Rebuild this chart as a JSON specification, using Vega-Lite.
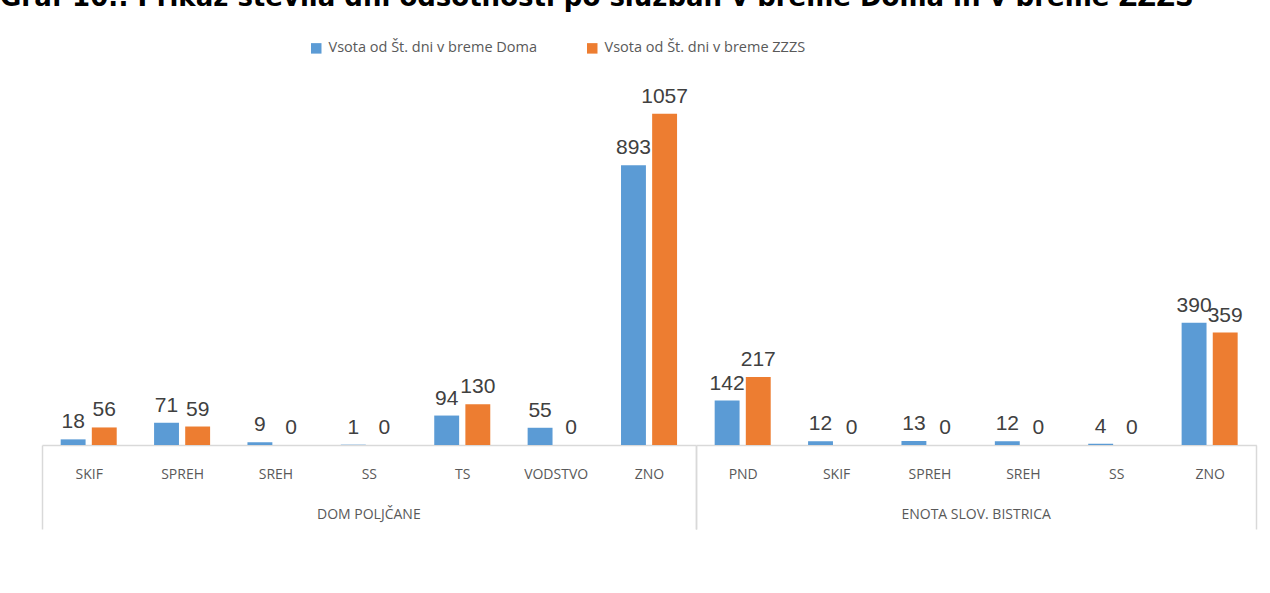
{
  "$schema": "https://vega.github.io/schema/vega-lite/v6.json",
  "padding": {"left": 0, "top": -15, "right": 8, "bottom": 0},
  "background": "white",
  "title": {
    "text": "Graf 10.: Prikaz števila dni odsotnosti po službah v breme Doma in v breme ZZZS",
    "anchor": "start",
    "frame": "group",
    "font": "DejaVu Sans",
    "fontSize": 26,
    "fontWeight": "bold",
    "color": "#000000",
    "limit": 0,
    "offset": 30,
    "dx": -42
  },
  "data": {
    "values": [
      {"enota": "DOM POLJČANE", "sluzba": "SKIF", "serija": "Vsota od Št. dni v breme Doma", "vrednost": 18},
      {"enota": "DOM POLJČANE", "sluzba": "SKIF", "serija": "Vsota od Št. dni v breme ZZZS", "vrednost": 56},
      {"enota": "DOM POLJČANE", "sluzba": "SPREH", "serija": "Vsota od Št. dni v breme Doma", "vrednost": 71},
      {"enota": "DOM POLJČANE", "sluzba": "SPREH", "serija": "Vsota od Št. dni v breme ZZZS", "vrednost": 59},
      {"enota": "DOM POLJČANE", "sluzba": "SREH", "serija": "Vsota od Št. dni v breme Doma", "vrednost": 9},
      {"enota": "DOM POLJČANE", "sluzba": "SREH", "serija": "Vsota od Št. dni v breme ZZZS", "vrednost": 0},
      {"enota": "DOM POLJČANE", "sluzba": "SS", "serija": "Vsota od Št. dni v breme Doma", "vrednost": 1},
      {"enota": "DOM POLJČANE", "sluzba": "SS", "serija": "Vsota od Št. dni v breme ZZZS", "vrednost": 0},
      {"enota": "DOM POLJČANE", "sluzba": "TS", "serija": "Vsota od Št. dni v breme Doma", "vrednost": 94},
      {"enota": "DOM POLJČANE", "sluzba": "TS", "serija": "Vsota od Št. dni v breme ZZZS", "vrednost": 130},
      {"enota": "DOM POLJČANE", "sluzba": "VODSTVO", "serija": "Vsota od Št. dni v breme Doma", "vrednost": 55},
      {"enota": "DOM POLJČANE", "sluzba": "VODSTVO", "serija": "Vsota od Št. dni v breme ZZZS", "vrednost": 0},
      {"enota": "DOM POLJČANE", "sluzba": "ZNO", "serija": "Vsota od Št. dni v breme Doma", "vrednost": 893},
      {"enota": "DOM POLJČANE", "sluzba": "ZNO", "serija": "Vsota od Št. dni v breme ZZZS", "vrednost": 1057},
      {"enota": "ENOTA SLOV. BISTRICA", "sluzba": "PND", "serija": "Vsota od Št. dni v breme Doma", "vrednost": 142},
      {"enota": "ENOTA SLOV. BISTRICA", "sluzba": "PND", "serija": "Vsota od Št. dni v breme ZZZS", "vrednost": 217},
      {"enota": "ENOTA SLOV. BISTRICA", "sluzba": "SKIF", "serija": "Vsota od Št. dni v breme Doma", "vrednost": 12},
      {"enota": "ENOTA SLOV. BISTRICA", "sluzba": "SKIF", "serija": "Vsota od Št. dni v breme ZZZS", "vrednost": 0},
      {"enota": "ENOTA SLOV. BISTRICA", "sluzba": "SPREH", "serija": "Vsota od Št. dni v breme Doma", "vrednost": 13},
      {"enota": "ENOTA SLOV. BISTRICA", "sluzba": "SPREH", "serija": "Vsota od Št. dni v breme ZZZS", "vrednost": 0},
      {"enota": "ENOTA SLOV. BISTRICA", "sluzba": "SREH", "serija": "Vsota od Št. dni v breme Doma", "vrednost": 12},
      {"enota": "ENOTA SLOV. BISTRICA", "sluzba": "SREH", "serija": "Vsota od Št. dni v breme ZZZS", "vrednost": 0},
      {"enota": "ENOTA SLOV. BISTRICA", "sluzba": "SS", "serija": "Vsota od Št. dni v breme Doma", "vrednost": 4},
      {"enota": "ENOTA SLOV. BISTRICA", "sluzba": "SS", "serija": "Vsota od Št. dni v breme ZZZS", "vrednost": 0},
      {"enota": "ENOTA SLOV. BISTRICA", "sluzba": "ZNO", "serija": "Vsota od Št. dni v breme Doma", "vrednost": 390},
      {"enota": "ENOTA SLOV. BISTRICA", "sluzba": "ZNO", "serija": "Vsota od Št. dni v breme ZZZS", "vrednost": 359}
    ]
  },
  "facet": {
    "column": {
      "field": "enota",
      "type": "nominal",
      "sort": ["DOM POLJČANE", "ENOTA SLOV. BISTRICA"],
      "header": {
        "title": null,
        "labelOrient": "bottom",
        "labelFont": "Open Sans",
        "labelFontSize": 14,
        "labelColor": "#595959",
        "labelPadding": 63
      }
    }
  },
  "spacing": 0,
  "align": "none",
  "bounds": "flush",
  "resolve": {"scale": {"x": "independent"}},
  "spec": {
    "width": {"step": 31.13},
    "height": 376,
    "encoding": {
      "x": {
        "field": "sluzba",
        "type": "nominal",
        "sort": null,
        "scale": {"paddingInner": 0, "paddingOuter": 0},
        "axis": {
          "title": null,
          "labelAngle": 0,
          "labelFont": "Open Sans",
          "labelFontSize": 14,
          "labelColor": "#595959",
          "labelPadding": -62,
          "domainColor": "#d9d9d9",
          "domainWidth": 1.5,
          "tickBand": "extent",
          "tickSize": 84,
          "tickColor": "#d9d9d9",
          "tickWidth": 1.5,
          "tickOpacity": {"condition": {"test": "datum.value === 'ZNO' || datum.extra", "value": 1}, "value": 0}
        }
      },
      "xOffset": {
        "field": "serija",
        "type": "nominal",
        "scale": {"paddingInner": 0.2, "paddingOuter": 0.6}
      },
      "y": {
        "field": "vrednost",
        "type": "quantitative",
        "scale": {"domain": [0, 1200]},
        "axis": null
      },
      "color": {
        "field": "serija",
        "type": "nominal",
        "scale": {"range": ["#5B9BD5", "#ED7D31"]},
        "legend": {
          "title": null,
          "orient": "none",
          "legendX": 267,
          "legendY": -28,
          "direction": "horizontal",
          "labelFont": "Open Sans",
          "labelFontSize": 14.5,
          "labelColor": "#595959",
          "labelLimit": 0,
          "labelOffset": 5,
          "symbolType": "square",
          "symbolSize": 110,
          "symbolStrokeWidth": 0,
          "columnPadding": 47
        }
      }
    },
    "layer": [
      {"mark": {"type": "bar"}},
      {
        "mark": {"type": "text", "baseline": "bottom", "dy": -7, "font": "Liberation Sans", "fontSize": 21},
        "encoding": {
          "text": {"field": "vrednost", "type": "quantitative"},
          "color": {"value": "#404040"}
        }
      }
    ]
  },
  "config": {
    "view": {"stroke": null}
  }
}
